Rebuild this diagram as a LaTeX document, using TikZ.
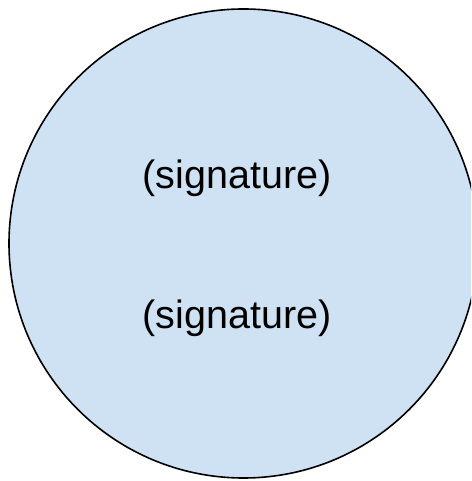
\documentclass[tikz,border=0pt]{standalone}
\usepackage{fontspec}
\setmainfont{Liberation Sans}
\usepackage{xcolor}
\usepackage{tikz}
\usetikzlibrary{positioning}
\definecolor{sigblue}{HTML}{CFE2F3}

\begin{document}
\begin{tikzpicture}[x=1pt,y=1pt,transform shape]
	\useasboundingbox (0,0) rectangle (471,481);
	\clip (0,0) rectangle (471,481);
	\draw[line width=1.6pt,fill=sigblue] (243.5,237.5) circle (234.5);
	\node[font=\fontsize{39.5}{44}\selectfont] (sigtop) at (237,303) {(signature)};
	\node[font=\fontsize{39.5}{44}\selectfont] (sigbot) at (237,163) {(signature)};
\end{tikzpicture}
\end{document}
